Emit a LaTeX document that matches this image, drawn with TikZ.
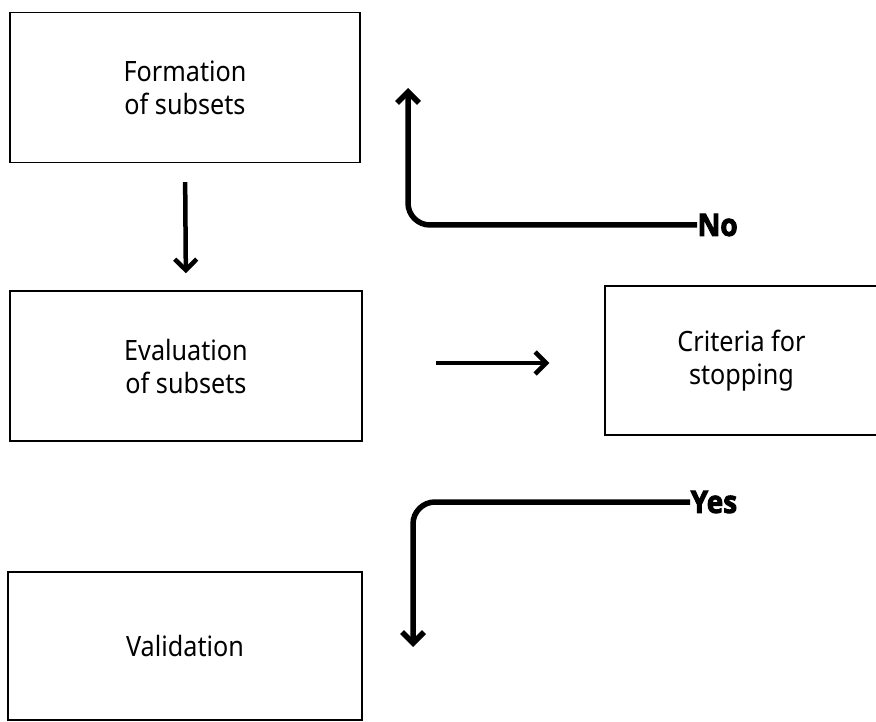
\documentclass[tikz,border=0pt]{standalone}
\usepackage{fontspec}
\setmainfont[FakeStretch=0.9]{Noto Sans}
\newfontfamily\answerfont[FakeStretch=0.9,FakeBold=3]{Open Sans}
\usetikzlibrary{arrows.meta}

\begin{document}
\begin{tikzpicture}[x=1pt,y=-1pt,line width=1.4pt,>={Straight Barb[length=11pt,width=22pt]},
  stage/.style={draw,align=center,minimum height=150pt,font=\fontsize{28}{33}\selectfont},
  flow/.style={->,line width=4.5pt},
  answer/.style={anchor=west,inner sep=0pt,font=\fontsize{31}{33}\selectfont\answerfont\bfseries}]
  \useasboundingbox (0,0) rectangle (876,722);

  \node[stage,minimum width=350pt] (form) at (185,87.5) {Formation\\of subsets};
  \node[stage,minimum width=352pt] (eval) at (186,366) {Evaluation\\of subsets};
  \node[stage,minimum width=273pt,minimum height=149pt] (crit) at (741.5,360.5) {Criteria for\\stopping};
  \node[stage,minimum width=354pt,minimum height=148pt] (valid) at (185,646) {Validation};

  \node[answer] (no) at (697,225) {No};
  \node[answer] (yes) at (690,502) {Yes};
  \coordinate (noTip) at (408,88);
  \coordinate (yesTip) at (413,647);

  \draw[flow,shorten <=19pt,shorten >=17pt] (form.south) -- (eval.north);
  \draw[flow,shorten <=73pt,shorten >=55pt] ([yshift=3pt]eval.east) -- ([yshift=3pt]eval.east -| crit.west);
  \draw[flow,line width=5.5pt,rounded corners=22pt] (no.west) -| (noTip);
  \draw[flow,line width=5.5pt,rounded corners=22pt] (yes.west) -| (yesTip);
\end{tikzpicture}
\end{document}
